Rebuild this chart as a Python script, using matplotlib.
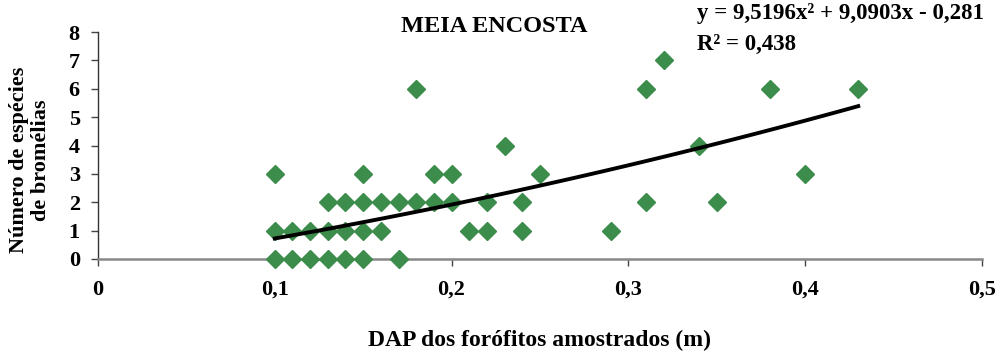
import numpy as np
import matplotlib
matplotlib.use("Agg")
import matplotlib.pyplot as plt
from matplotlib.ticker import FuncFormatter

# DAP (m) e número de espécies de bromélias por forófito
dap = [0.10, 0.11, 0.12, 0.13, 0.14, 0.15, 0.17,
       0.10, 0.11, 0.12, 0.13, 0.14, 0.15, 0.16,
       0.13, 0.14, 0.15, 0.16, 0.17, 0.18, 0.19, 0.20, 0.22, 0.24,
       0.10, 0.15, 0.19, 0.20, 0.25,
       0.18,
       0.21, 0.22, 0.24, 0.29,
       0.23,
       0.31, 0.32, 0.31, 0.34, 0.35, 0.38, 0.40, 0.43]
especies = [0, 0, 0, 0, 0, 0, 0,
            1, 1, 1, 1, 1, 1, 1,
            2, 2, 2, 2, 2, 2, 2, 2, 2, 2,
            3, 3, 3, 3, 3,
            6,
            1, 1, 1, 1,
            4,
            6, 7, 2, 4, 2, 6, 3, 6]

coef = [9.5196, 9.0903, -0.281]
r2 = 0.438

plt.rcParams["font.family"] = ["Liberation Serif", "DejaVu Serif"]
plt.rcParams["font.weight"] = "bold"

fig = plt.figure(figsize=(9.99, 3.56), dpi=100)
ax = fig.add_axes([0.098, 0.2725, 0.885, 0.6375])

ax.plot(dap, especies, linestyle="None", marker="D", markersize=9,
        color="#3c8c4c", clip_on=False, zorder=3)

xf = np.linspace(min(dap), max(dap), 100)
ax.plot(xf, np.polyval(coef, xf), color="black", lw=2.8, zorder=4)

ax.set_xlim(0, 0.5)
ax.set_ylim(0, 8)
ax.set_xticks(np.arange(0, 0.51, 0.1))
ax.set_yticks(range(0, 9))
ax.xaxis.set_major_formatter(FuncFormatter(lambda v, p: "0" if v == 0 else f"{v:.1f}".replace(".", ",")))

for s in ["top", "right"]:
    ax.spines[s].set_visible(False)
ax.spines["left"].set_color("#333333")
ax.spines["left"].set_linewidth(1)
ax.spines["bottom"].set_color("#888888")
ax.spines["bottom"].set_linewidth(1.8)
ax.tick_params(axis="both", labelsize=16, length=5, width=1, color="#444444")
ax.tick_params(axis="x", pad=10)
ax.tick_params(axis="y", pad=8)

fig.text(0.540, 0.045, "DAP dos forófitos amostrados (m)", ha="center", va="center",
         fontsize=17, fontweight="bold")
fig.text(0.030, 0.55, "Número de espécies\nde bromélias", ha="center", va="center",
         rotation=90, fontsize=16, fontweight="bold", linespacing=1.1)
fig.text(0.495, 0.925, "MEIA ENCOSTA", ha="center", va="center", fontsize=17.5,
         fontweight="bold")
fig.text(0.698, 0.962, "y = 9,5196x² + 9,0903x - 0,281", ha="left",
         va="center", fontsize=16.5, fontweight="bold")
fig.text(0.698, 0.874, "R² = " + f"{r2}".replace(".", ","), ha="left",
         va="center", fontsize=16.5, fontweight="bold")

fig.savefig("out.png", dpi=100)
